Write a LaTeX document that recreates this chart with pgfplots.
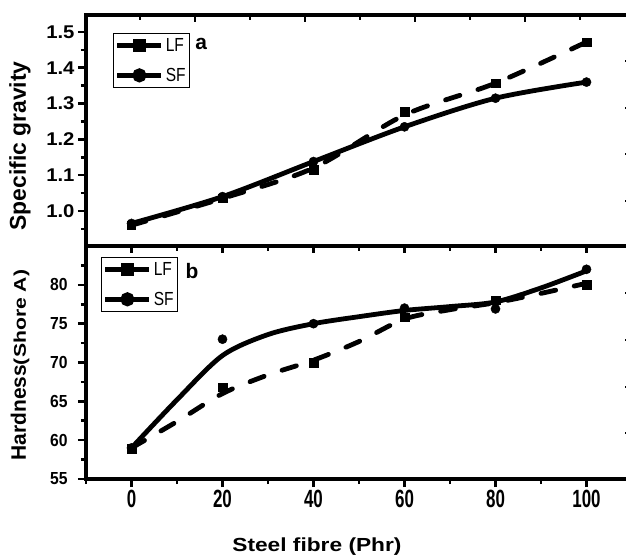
\documentclass[border=0pt]{standalone}
\usepackage{fontspec}
\usepackage{pgfplots}
\pgfplotsset{compat=1.18}
\setmainfont{Liberation Sans}
\newfontfamily\narrowfont[FakeStretch=0.68]{Liberation Sans}
\newfontfamily\legfont[FakeStretch=0.82]{Liberation Sans}
\newfontfamily\ybfont[FakeStretch=0.9]{Liberation Sans}
\newfontfamily\ytfont[FakeStretch=1.1]{Liberation Sans}
\newfontfamily\widefont[FakeStretch=1.2]{Liberation Sans}
\newfontfamily\shorefont[FakeStretch=1.25]{Liberation Sans}

\pgfplotsset{
  panel/.style={
    width=546bp, scale only axis,
    xmin=-10, xmax=110,
    axis line style={line width=3.5bp},
    every tick/.style={black, line width=2.6bp},
    major tick length=8bp, minor tick length=5bp,
    tick align=outside,
    /pgf/number format/assume math mode=true,
    legend style={draw=black, line width=1bp, inner xsep=1.5bp, inner ysep=3bp,
      font=\legfont\fontsize{19}{19}\selectfont, row sep=11bp,
      legend cell align=left},
    legend image code/.code={
      \draw[mark repeat=2, mark phase=2, #1]
        plot coordinates {(0bp,0bp) (22bp,0bp) (44bp,0bp)};},
  },
  overlay/.style={
    width=546bp, scale only axis,
    axis line style={draw=none},
    every tick/.style={black, line width=2.6bp},
    major tick length=8bp, minor tick length=5bp,
    tick align=inside,
    xtick pos=right, ytick pos=right,
    xticklabels={}, yticklabels={},
  },
  lfline/.style={black, line width=4.8bp, line cap=round, dash pattern=on 15bp off 19bp, smooth},
  sfline/.style={black, line width=4.8bp, line cap=round, smooth},
  lfmark/.style={black, only marks, mark=square*, mark size=4.2bp},
  sfmark/.style={black, only marks, mark=*, mark size=4.6bp},
}

\begin{document}
\begin{tikzpicture}
% ---- panel a : specific gravity
\begin{axis}[panel, name=top,
    height=231bp,
    ymin=0.902, ymax=1.5475,
    xtick=\empty,
    ytick pos=left,
    ytick={1.0,1.1,1.2,1.3,1.4,1.5},
    minor ytick={0.95,1.05,1.15,1.25,1.35,1.45},
    yticklabel style={font=\ytfont\bfseries\fontsize{18.5}{18.5}\selectfont,
      /pgf/number format/fixed, /pgf/number format/fixed zerofill,
      /pgf/number format/precision=1},
    ylabel={Specific gravity},
    ylabel style={font=\bfseries\fontsize{23}{23}\selectfont,
      at={(axis description cs:-0.121,0.433)}, anchor=center},
    legend style={at={(axis description cs:0.0495,0.922)}, anchor=north west},
  ]
  \addlegendimage{black, line width=4.8bp, mark=square*, mark size=4.2bp}
  \addlegendentry{LF}
  \addlegendimage{black, line width=4.8bp, mark=*, mark size=4.6bp}
  \addlegendentry{SF}
  \addplot[lfline, forget plot] coordinates {(0,0.96) (20,1.035) (40,1.12) (60,1.268) (80,1.357) (100,1.472)};
  \addplot[sfline, forget plot] coordinates {(0,0.965) (20,1.04) (40,1.138) (60,1.235) (80,1.315) (100,1.36)};
  \addplot[lfmark, forget plot] coordinates {(0,0.96) (20,1.035) (40,1.115) (60,1.277) (80,1.357) (100,1.472)};
  \addplot[sfmark, forget plot] coordinates {(0,0.965) (20,1.04) (40,1.138) (60,1.235) (80,1.315) (100,1.36)};
  \node[font=\bfseries\fontsize{21}{21}\selectfont] at (axis description cs:0.211,0.874) {a};
\end{axis}
\begin{axis}[overlay, at={(top.south west)}, anchor=south west,
    height=231bp,
    xmin=0.2, xmax=99.45, ymin=0, ymax=231,
    xtick={20,40,60,80}, minor xtick={10,30,50,70,90},
    ytick={45,92,138,185}, major tick length=7bp,
  ]
  \addplot[draw=none, forget plot] coordinates {(50,100)};
\end{axis}
% ---- panel b : hardness
\begin{axis}[panel, name=bot, at={(top.south west)}, anchor=north west,
    height=233bp,
    ymin=55, ymax=85,
    xtick pos=left, ytick pos=left,
    xtick={0,20,40,60,80,100},
    minor xtick={-10,10,30,50,70,90,110},
    ytick={55,60,65,70,75,80},
    minor ytick={57.5,62.5,67.5,72.5,77.5,82.5},
    xticklabel style={font=\narrowfont\bfseries\fontsize{25}{25}\selectfont},
    yticklabel style={font=\ybfont\bfseries\fontsize{17.5}{17.5}\selectfont, xshift=-7bp},
    ylabel={Hardness{\shorefont\fontsize{17}{17}\selectfont(Shore A)}},
    ylabel style={font=\bfseries\fontsize{21}{21}\selectfont,
      at={(axis description cs:-0.121,0.489)}, anchor=center},
    xlabel={Steel fibre (Phr)},
    xlabel style={font=\widefont\bfseries\fontsize{19}{19}\selectfont,
      at={(axis description cs:0.423,-0.292)}, anchor=center},
    legend style={at={(axis description cs:0.0275,0.953)}, anchor=north west},
  ]
  \addlegendimage{black, line width=4.8bp, mark=square*, mark size=4.2bp}
  \addlegendentry{LF}
  \addlegendimage{black, line width=4.8bp, mark=*, mark size=4.6bp}
  \addlegendentry{SF}
  \addplot[lfline, forget plot] coordinates {(0,59) (10,62.4) (20,66) (30,68.4) (40,70.3) (50,72.7) (60,75.6) (70,76.8) (80,77.7) (90,78.9) (100,80.2)};
  \addplot[sfline, forget plot] coordinates {(0,59) (10,65.2) (20,70.9) (30,73.6) (40,75) (50,75.9) (60,76.7) (70,77.2) (80,77.8) (90,79.6) (100,81.8)};
  \addplot[lfmark, forget plot] coordinates {(0,58.9) (20,66.8) (40,70) (60,75.8) (80,78) (100,80)};
  \addplot[sfmark, forget plot] coordinates {(0,59) (20,73) (40,75) (60,77) (80,76.9) (100,82)};
  \node[font=\bfseries\fontsize{21}{21}\selectfont] at (axis description cs:0.194,0.893) {b};
\end{axis}
\begin{axis}[overlay, at={(bot.south west)}, anchor=south west,
    height=233bp,
    xmin=-10, xmax=110, ymin=0, ymax=233,
    xtick={0,20,40,60,80,100}, minor xtick={10,30,50,70,90},
    ytick={46,92,139,186}, major tick length=7bp,
  ]
  \addplot[draw=none, forget plot] coordinates {(50,100)};
\end{axis}
\pgfresetboundingbox
\path[use as bounding box] ([xshift=-86bp,yshift=-77bp]bot.south west)
  rectangle ([xshift=-6bp,yshift=15bp]top.north east);
\end{tikzpicture}
\end{document}
